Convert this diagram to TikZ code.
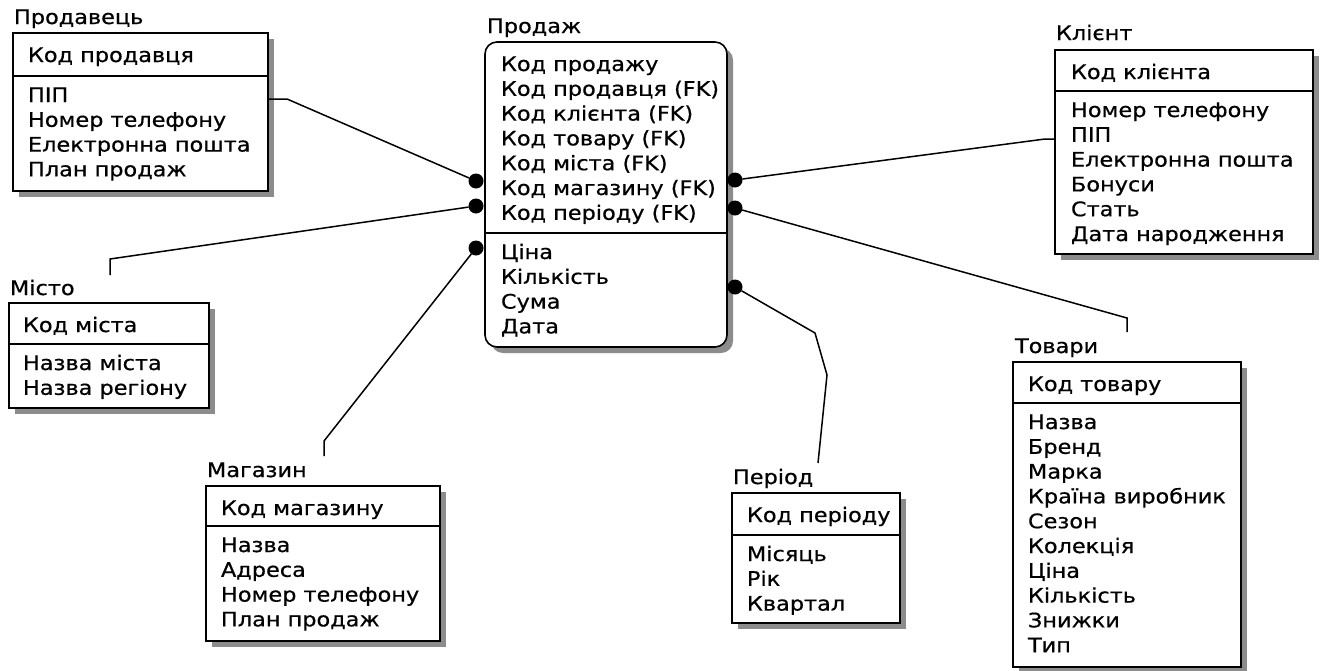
\documentclass[tikz,border=0pt]{standalone}
\usepackage{fontspec}
\setmainfont{DejaVu Sans}[FakeStretch=1.12, FakeBold=0.6]
\usetikzlibrary{shadows}
\tikzset{
  ent/.style={draw=black, line width=1.6pt, fill=white, inner sep=0pt, outer sep=0pt,
    anchor=north west,
    drop shadow={shadow xshift=6pt, shadow yshift=-6pt, fill=black!45, opacity=1}},
  txt/.style={anchor=base west, inner sep=0pt, outer sep=0pt, font=\fontsize{20}{24}\selectfont},
  divl/.style={line width=1.6pt},
  conn/.style={line width=1.5pt},
  dotn/.style={circle, fill=black, draw=none, minimum size=15pt, inner sep=0pt, outer sep=0pt},
}
% #1 name prefix, #2 x, #3 first baseline, #4 list
\newcommand\entrows[4]{%
  \foreach \t [count=\i from 0] in {#4}{%
    \node[txt] (#1-\i) at (#2, {#3+\i*24.8}) {\t};
  }%
}
\begin{document}
\begin{tikzpicture}[x=1pt, y=-1pt]
\useasboundingbox (0,0) rectangle (1327,670);

% ---------- Продавець
\node[txt] (t-prod) at (14,24) {Продавець};
\node[ent, minimum width=255pt, minimum height=158pt] (prodavets) at (13,33) {};
\draw[divl] (prodavets.west |- 0,76) -- (prodavets.east |- 0,76);
\entrows{pk}{28}{62}{Код продавця}
\entrows{pa}{28}{102}{ПІП, Номер телефону, Електронна пошта, План продаж}

% ---------- Продаж
\node[txt] (t-sale) at (487,33) {Продаж};
\node[ent, rounded corners=12pt, minimum width=242pt, minimum height=305pt] (sale) at (485,42) {};
\draw[divl] (sale.west |- 0,233) -- (sale.east |- 0,233);
\entrows{sk}{501}{71}{Код продажу, Код продавця (FK), Код клієнта (FK), Код товару (FK), Код міста (FK), Код магазину (FK), Код періоду (FK)}
\entrows{sa}{501}{259}{Ціна, Кількість, Сума, Дата}

% ---------- Клієнт
\node[txt] (t-client) at (1056,40) {Клієнт};
\node[ent, minimum width=258pt, minimum height=204pt] (client) at (1055,50) {};
\draw[divl] (client.west |- 0,91) -- (client.east |- 0,91);
\entrows{ck}{1071}{79}{Код клієнта}
\entrows{ca}{1071}{117}{Номер телефону, ПІП, Електронна пошта, Бонуси, Стать, Дата народження}

% ---------- Місто
\node[txt] (t-misto) at (10,295) {Місто};
\node[ent, minimum width=200pt, minimum height=105pt] (misto) at (9,303) {};
\draw[divl] (misto.west |- 0,344) -- (misto.east |- 0,344);
\entrows{mk}{23}{332}{Код міста}
\entrows{ma}{23}{370}{Назва міста, Назва регіону}

% ---------- Магазин
\node[txt] (t-mag) at (207,477) {Магазин};
\node[ent, minimum width=234pt, minimum height=155pt] (magazin) at (206,486) {};
\draw[divl] (magazin.west |- 0,526) -- (magazin.east |- 0,526);
\entrows{gk}{221}{515}{Код магазину}
\entrows{ga}{221}{552}{Назва, Адреса, Номер телефону, План продаж}

% ---------- Період
\node[txt] (t-per) at (733,484) {Період};
\node[ent, minimum width=168pt, minimum height=130pt] (period) at (732,493) {};
\draw[divl] (period.west |- 0,535) -- (period.east |- 0,535);
\entrows{rk}{747}{522}{Код періоду}
\entrows{ra}{747}{561}{Місяць, Рік, Квартал}

% ---------- Товари
\node[txt] (t-tov) at (1015,353) {Товари};
\node[ent, minimum width=228pt, minimum height=305pt] (tovary) at (1013,362) {};
\draw[divl] (tovary.west |- 0,403) -- (tovary.east |- 0,403);
\entrows{tk}{1028}{391}{Код товару}
\entrows{ta}{1028}{429}{Назва, Бренд, Марка, Країна виробник, Сезон, Колекція, Ціна, Кількість, Знижки, Тип}

% ---------- connectors
\node[dotn] (dA) at (476,181) {};
\node[dotn] (dB) at (476,206) {};
\node[dotn] (dC) at (476,248) {};
\node[dotn] (dD) at (735,180) {};
\node[dotn] (dE) at (735,208) {};
\node[dotn] (dF) at (735,287) {};

\coordinate (a1) at (287,99);
\draw[conn] (prodavets.east |- 0,99) -- (a1) -- (dA);

\coordinate (b1) at (110,259);
\coordinate (b2) at (110,275);
\draw[conn] (dB) -- (b1) -- (b2);

\coordinate (c1) at (324,441);
\coordinate (c2) at (324,456);
\draw[conn] (dC) -- (c1) -- (c2);

\coordinate (e1) at (1045,139);
\draw[conn] (dD) -- (e1) -- (client.west |- 0,139);

\coordinate (f1) at (1127,318);
\coordinate (f2) at (1127,332);
\draw[conn] (dE) -- (f1) -- (f2);

\coordinate (g1) at (815,333);
\coordinate (g2) at (827,375);
\coordinate (g3) at (818,463);
\draw[conn] (dF) -- (g1) -- (g2) -- (g3);
\end{tikzpicture}
\end{document}
